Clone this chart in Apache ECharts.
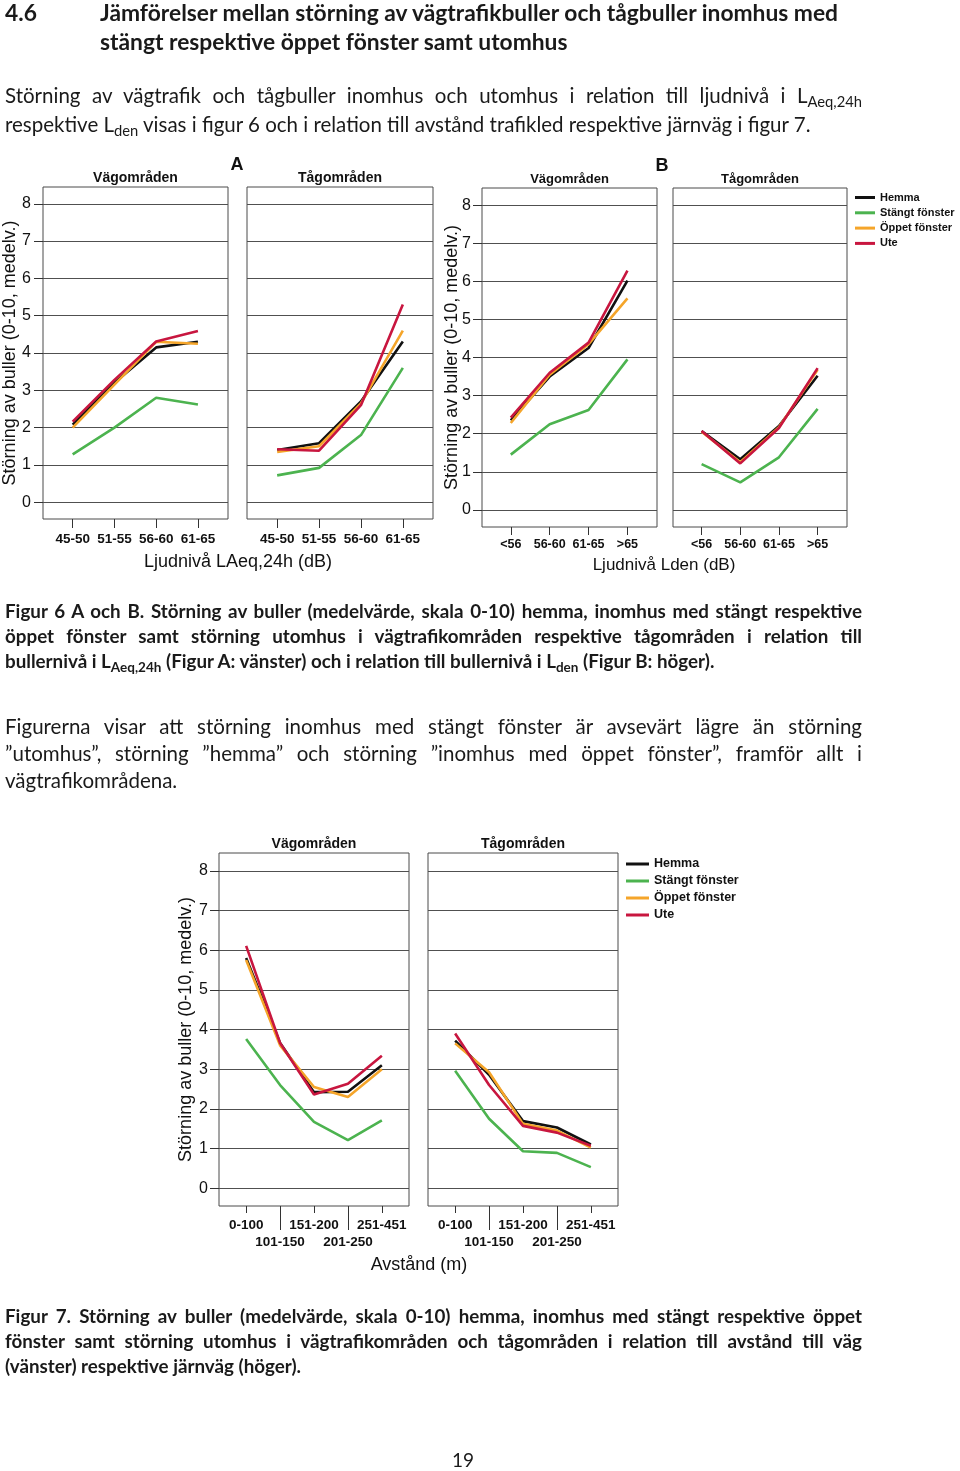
<!DOCTYPE html>
<html>
<head>
<meta charset="utf-8">
<script src="https://cdn.jsdelivr.net/npm/echarts@6/dist/echarts.min.js"></script>
<style>
html, body { margin: 0; padding: 0; background: #fff; }
#page { position: relative; width: 960px; height: 1471px; overflow: hidden; }
#chart { position: absolute; left: 0; top: 0; width: 960px; height: 1471px; }
.t { position: absolute; white-space: nowrap; color: #1a1a1a; font-family: Lato, "Noto Sans", sans-serif; }
.h { font-size: 22.8px; font-weight: bold; line-height: 29px; }
.p { font-size: 20.5px; left: 5px; width: 857px; text-align: justify; }
.c { font-size: 18.8px; font-weight: bold; left: 5px; width: 857px; text-align: justify; line-height: 25px; }
.j { text-align-last: justify; }
sub { font-size: 0.72em; vertical-align: -0.3em; line-height: 0; }
</style>
</head>
<body>
<div id="page">
	<div id="chart"></div>

	<div class="t h" style="left:5px;top:-2px">4.6</div>
	<div class="t h" style="left:100px;top:-2px">Jämförelser mellan störning av vägtrafikbuller och tågbuller inomhus med</div>
	<div class="t h" style="left:100px;top:27px">stängt respektive öppet fönster samt utomhus</div>

	<div class="t p j" style="top:81px;line-height:29px">Störning av vägtrafik och tågbuller inomhus och utomhus i relation till ljudnivå i L<sub>Aeq,24h</sub></div>
	<div class="t p" style="top:110px;line-height:29px">respektive L<sub>den</sub> visas i figur 6 och i relation till avstånd trafikled respektive järnväg i figur 7.</div>

	<div class="t c j" style="top:598px">Figur 6 A och B. Störning av buller (medelvärde, skala 0-10) hemma, inomhus med stängt respektive</div>
	<div class="t c j" style="top:623px">öppet fönster samt störning utomhus i vägtrafikområden respektive tågområden i relation till</div>
	<div class="t c" style="top:648px">bullernivå i L<sub>Aeq,24h</sub> (Figur A: vänster) och i relation till bullernivå i L<sub>den</sub> (Figur B: höger).</div>

	<div class="t p j" style="top:713px;line-height:27px">Figurerna visar att störning inomhus med stängt fönster är avsevärt lägre än störning</div>
	<div class="t p j" style="top:740px;line-height:27px">”utomhus”, störning ”hemma” och störning ”inomhus med öppet fönster”, framför allt i</div>
	<div class="t p" style="top:767px;line-height:27px">vägtrafikområdena.</div>

	<div class="t c j" style="top:1303px">Figur 7. Störning av buller (medelvärde, skala 0-10) hemma, inomhus med stängt respektive öppet</div>
	<div class="t c j" style="top:1328px">fönster samt störning utomhus i vägtrafikområden och tågområden i relation till avstånd till väg</div>
	<div class="t c" style="top:1353px">(vänster) respektive järnväg (höger).</div>

	<div class="t" style="left:452px;top:1446px;font-size:19px;line-height:28px">19</div>
</div>
<script>
// kategorier
var catLaeq = ['45-50', '51-55', '56-60', '61-65'];
var catLden = ['<56', '56-60', '61-65', '>65'];
var catDist = ['0-100', '101-150', '151-200', '201-250', '251-451'];
var yTicks = [0, 1, 2, 3, 4, 5, 6, 7, 8];
var seriesNames = ['Hemma', 'Stängt fönster', 'Öppet fönster', 'Ute'];
var colors = ['#111111', '#4cb34f', '#f5a52a', '#c8163f'];

// Figur 6A, LAeq,24h - vägområden
var aVagHemma = [2.08, 3.2, 4.15, 4.3];
var aVagStangt = [1.28, 2.0, 2.8, 2.62];
var aVagOppet = [2.0, 3.15, 4.3, 4.25];
var aVagUte = [2.16, 3.28, 4.31, 4.59];
// Figur 6A - tågområden
var aTagHemma = [1.4, 1.58, 2.7, 4.31];
var aTagStangt = [0.72, 0.92, 1.8, 3.6];
var aTagOppet = [1.35, 1.5, 2.65, 4.6];
var aTagUte = [1.42, 1.38, 2.6, 5.3];
// Figur 6B, Lden - vägområden
var bVagHemma = [2.35, 3.5, 4.25, 6.02];
var bVagStangt = [1.45, 2.25, 2.62, 3.95];
var bVagOppet = [2.28, 3.55, 4.35, 5.55];
var bVagUte = [2.42, 3.6, 4.39, 6.28];
// Figur 6B - tågområden
var bTagHemma = [2.07, 1.33, 2.2, 3.52];
var bTagStangt = [1.2, 0.72, 1.38, 2.65];
var bTagOppet = [2.05, 1.25, 2.17, 3.68];
var bTagUte = [2.07, 1.22, 2.15, 3.72];
// Figur 7, avstånd - vägområden
var dVagHemma = [5.8, 3.66, 2.42, 2.43, 3.1];
var dVagStangt = [3.76, 2.6, 1.67, 1.21, 1.71];
var dVagOppet = [5.75, 3.6, 2.55, 2.3, 3.0];
var dVagUte = [6.11, 3.66, 2.36, 2.63, 3.34];
// Figur 7 - tågområden
var dTagHemma = [3.72, 2.86, 1.69, 1.53, 1.1];
var dTagStangt = [2.96, 1.75, 0.93, 0.89, 0.53];
var dTagOppet = [3.65, 2.92, 1.62, 1.45, 1.02];
var dTagUte = [3.9, 2.6, 1.57, 1.4, 1.07];

var yTitle = 'Störning av buller (0-10, medelv.)';
var font = '"Liberation Sans", Arial, sans-serif';

// paneler: position + vilka serier
var panels = [
	{ left: 43, top: 187, width: 185, height: 332, cats: catLaeq, xMin: -0.71, xMax: 3.72, yName: true, nameGap: 24, yMargin: 12,
		lab: 13.5, tick: 9, margin: 13, title: 'Vägområden', titleSize: 14, titleY: 178,
		data: [aVagHemma, aVagStangt, aVagOppet, aVagUte] },
	{ left: 247, top: 187, width: 186, height: 332, cats: catLaeq, xMin: -0.72, xMax: 3.72, yName: false,
		lab: 13.5, tick: 9, margin: 13, title: 'Tågområden', titleSize: 14, titleY: 178,
		data: [aTagHemma, aTagStangt, aTagOppet, aTagUte] },
	{ left: 482, top: 188, width: 175, height: 339, cats: catLden, xMin: -0.74, xMax: 3.76, yName: true, nameGap: 21, yMargin: 11,
		lab: 12.5, tick: 8, margin: 11, title: 'Vägområden', titleSize: 13, titleY: 179,
		data: [bVagHemma, bVagStangt, bVagOppet, bVagUte] },
	{ left: 673, top: 188, width: 174, height: 339, cats: catLden, xMin: -0.74, xMax: 3.76, yName: false,
		lab: 12.5, tick: 8, margin: 11, title: 'Tågområden', titleSize: 13, titleY: 179,
		data: [bTagHemma, bTagStangt, bTagOppet, bTagUte] },
	{ left: 219, top: 853, width: 190, height: 353, cats: catDist, xMin: -0.8, xMax: 4.8, yName: true, nameGap: 24, yMargin: 11,
		lab: 13.5, tick: 7, margin: 12, title: 'Vägområden', titleSize: 14, titleY: 844, stagger: true,
		data: [dVagHemma, dVagStangt, dVagOppet, dVagUte] },
	{ left: 428, top: 853, width: 190, height: 353, cats: catDist, xMin: -0.8, xMax: 4.8, yName: false,
		lab: 13.5, tick: 7, margin: 12, title: 'Tågområden', titleSize: 14, titleY: 844, stagger: true,
		data: [dTagHemma, dTagStangt, dTagOppet, dTagUte] }
];

var grids = [], xAxes = [], yAxes = [], series = [], graphics = [];

panels.forEach(function (p, i) {
	grids.push({
		left: p.left, top: p.top, width: p.width, height: p.height,
		show: true, borderColor: '#4a4a4a', borderWidth: 1, backgroundColor: 'transparent'
	});
	var idx = p.cats.map(function (c, j) { return j; });
	var main = idx, second = [];
	if (p.stagger) {
		main = idx.filter(function (j) { return j % 2 === 0; });
		second = idx.filter(function (j) { return j % 2 === 1; });
	}
	var xi = xAxes.length;
	xAxes.push({
		gridIndex: i, type: 'value', min: p.xMin, max: p.xMax,
		axisLine: { show: false, onZero: false },
		axisTick: { show: true, customValues: main, length: p.tick, lineStyle: { color: '#333' } },
		axisLabel: {
			customValues: main, margin: p.margin, color: '#111', fontSize: p.lab, fontWeight: 'bold', fontFamily: font,
			formatter: function (v) { return p.cats[Math.round(v)]; }
		},
		splitLine: { show: false }
	});
	if (p.stagger) {
		xAxes.push({
			gridIndex: i, type: 'value', min: p.xMin, max: p.xMax, position: 'bottom',
			axisLine: { show: false, onZero: false },
			axisTick: { show: true, customValues: second, length: 24, lineStyle: { color: '#333' } },
			axisLabel: {
				customValues: second, margin: 29, color: '#111', fontSize: p.lab, fontWeight: 'bold', fontFamily: font,
				formatter: function (v) { return p.cats[Math.round(v)]; }
			},
			splitLine: { show: false }
		});
	}
	yAxes.push({
		gridIndex: i, type: 'value', min: -0.45, max: 8.45,
		axisLine: { show: false, onZero: false },
		axisTick: { show: p.yName, customValues: yTicks, length: 9, lineStyle: { color: '#333' } },
		axisLabel: { show: p.yName, customValues: yTicks, margin: p.yMargin || 12, fontSize: 16, color: '#111', fontFamily: font },
		splitLine: { show: true, lineStyle: { color: '#505050', width: 1 } },
		name: p.yName ? yTitle : '',
		nameLocation: 'middle', nameGap: p.nameGap || 30, nameRotate: 90, nameMoveOverlap: false,
		nameTextStyle: { fontSize: 18, color: '#111', fontFamily: font }
	});
	p.data.forEach(function (vals, k) {
		series.push({
			type: 'line', name: seriesNames[k], xAxisIndex: xi, yAxisIndex: i,
			data: vals.map(function (v, j) { return [j, v]; }),
			showSymbol: false, symbol: 'none', color: colors[k],
			lineStyle: { width: 2.6, color: colors[k] }, z: 2 + k, animation: false
		});
	});
	graphics.push({
		type: 'text', x: p.left + p.width / 2, y: p.titleY,
		style: { text: p.title, align: 'center', verticalAlign: 'middle', fontSize: p.titleSize, fontWeight: 'bold', fontFamily: font, fill: '#111' }
	});
});

// A / B och axeltitlar
function txt(s, x, y, size, weight) {
	return { type: 'text', x: x, y: y, style: { text: s, align: 'center', verticalAlign: 'middle', fontSize: size, fontWeight: weight || 'normal', fontFamily: font, fill: '#111' } };
}
graphics.push(txt('A', 237, 165, 18, 'bold'));
graphics.push(txt('B', 662, 166, 18, 'bold'));
graphics.push(txt('Ljudnivå LAeq,24h (dB)', 238, 562, 18));
graphics.push(txt('Ljudnivå Lden (dB)', 664, 565, 17));
graphics.push(txt('Avstånd (m)', 419, 1265, 18));

var legendBase = {
	data: seriesNames, orient: 'vertical', icon: 'rect', selectedMode: false,
	padding: 0, inactiveColor: '#111'
};
var legends = [
	Object.assign({}, legendBase, {
		left: 855, top: 191, itemWidth: 20, itemHeight: 3, itemGap: 2.3,
		textStyle: { fontSize: 11, fontWeight: 'bold', color: '#111', fontFamily: font, lineHeight: 13 }
	}),
	Object.assign({}, legendBase, {
		left: 626, top: 857, itemWidth: 23, itemHeight: 3, itemGap: 3,
		textStyle: { fontSize: 12.5, fontWeight: 'bold', color: '#111', fontFamily: font, lineHeight: 14 }
	})
];

var option = {
	animation: false,
	backgroundColor: 'transparent',
	textStyle: { fontFamily: font },
	grid: grids,
	xAxis: xAxes,
	yAxis: yAxes,
	legend: legends,
	series: series,
	graphic: graphics
};

var chart = echarts.init(document.getElementById('chart'), null, { renderer: 'canvas' });
chart.setOption(option);
</script>
</body>
</html>
